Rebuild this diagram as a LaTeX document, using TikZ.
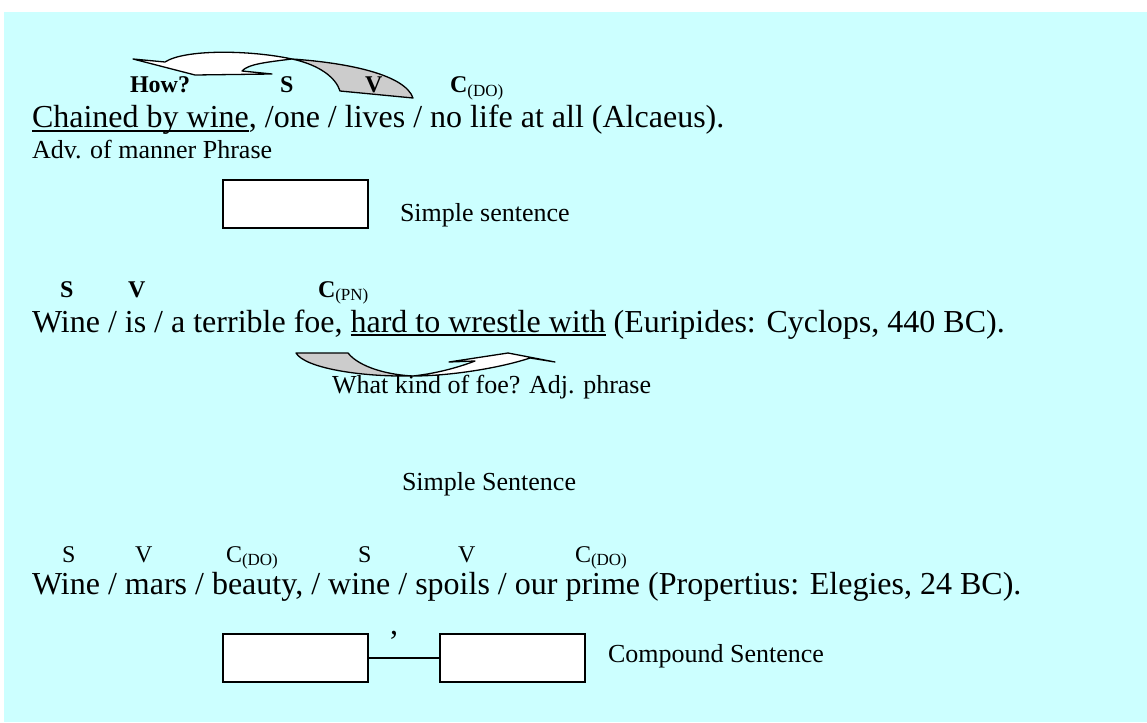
\documentclass[tikz,border=0pt]{standalone}
\usepackage{fontspec}
\setmainfont{Liberation Serif}
\tikzset{
  every node/.style={inner sep=0pt, outer sep=0pt},
  main/.style={anchor=base west, font=\fontsize{32}{36}\selectfont},
  small/.style={anchor=base west, font=\fontsize{26}{30}\selectfont},
  lab/.style={anchor=base west, font=\fontsize{24}{28}\selectfont\bfseries},
  plainlab/.style={anchor=base west, font=\fontsize{24}{28}\selectfont},
  sbox/.style={draw, line width=1.6pt, fill=white, minimum width=145pt, minimum height=48pt, anchor=north west},
  ribbon/.style={draw, line width=1.3pt, line join=round},
}
\definecolor{bgcyan}{RGB}{204,255,255}
\definecolor{ribgray}{RGB}{204,204,204}
% subscript in plain upright type
\newcommand{\sub}[1]{\textsubscript{\normalfont\fontsize{17}{20}\selectfont #1}}
% underline drawn just below the baseline
\newcommand{\ulx}[1]{\setbox0\hbox{#1}\rlap{\rule[-4pt]{\wd0}{1.6pt}}\box0\relax}
\begin{document}
\begin{tikzpicture}[x=1pt, y=-1pt]
\useasboundingbox (0,0) rectangle (1147,722);
\fill[bgcyan] (4,12) rectangle (1147,722);

% curved ribbon arrow over the first sentence
\draw[ribbon, fill=white] (133,59) -- (165,62)
  .. controls (185,49) and (250,50) .. (292,59)
  .. controls (268,62) and (248,64) .. (242,71)
  -- (272,74) -- (195,75) -- cycle;
\draw[ribbon, fill=ribgray] (292,59)
  .. controls (350,63) and (405,75) .. (413,98)
  -- (340,91)
  .. controls (336,78) and (320,65) .. (292,59) -- cycle;

% first example
\node[lab] (how) at (130,93) {How?};
\node[lab] (s1) at (280,93) {S};
\node[lab] (v1) at (365,93) {V};
\node[lab] (c1) at (450,93) {C\sub{(DO)}};
\node[main] (l1) at (32,128) {\ulx{Chained by wine}, /one / lives / no life at all (Alcaeus).};
\node[small] (adv) at (32,159) {Adv. of manner Phrase};
\node[sbox] (b1) at (223,180) {};
\node[small] (ss1) at (400,221) {Simple sentence};

% second example
\node[lab] (s2) at (60,297) {S};
\node[lab] (v2) at (128,297) {V};
\node[lab] (c2) at (318,297) {C\sub{(PN)}};
\node[main] (l2) at (32,332) {Wine / is / a terrible foe, \ulx{hard to wrestle with} (Euripides: Cyclops, 440 BC).};
\draw[ribbon, fill=ribgray] (296,353) -- (348,353)
  .. controls (360,368) and (390,375) .. (413,376)
  .. controls (360,377) and (305,368) .. (296,353) -- cycle;
\draw[ribbon, fill=white] (413,376)
  .. controls (440,373) and (462,366) .. (475,361)
  -- (449,362) -- (508,353) -- (555,362) -- (530,358)
  .. controls (500,368) and (450,376) .. (413,376) -- cycle;
\node[small] (wk) at (332,393) {What kind of foe? Adj. phrase};
\node[small] (ss2) at (402,490) {Simple Sentence};

% third example
\node[plainlab] (s3) at (62,562) {S};
\node[plainlab] (v3) at (135,562) {V};
\node[plainlab] (c3) at (226,562) {C\sub{(DO)}};
\node[plainlab] (s4) at (358,562) {S};
\node[plainlab] (v4) at (458,562) {V};
\node[plainlab] (c4) at (575,562) {C\sub{(DO)}};
\node[main] (l3) at (32,594) {Wine / mars / beauty, / wine / spoils / our prime (Propertius: Elegies, 24 BC).};
\node[sbox] (ba) at (223,634) {};
\node[sbox] (bb) at (440,634) {};
\draw[line width=1.3pt] (ba.east) -- (bb.west);
\node[main] (comma) at (390,634) {,};
\node[small] (cs) at (608,662) {Compound Sentence};
\end{tikzpicture}
\end{document}
